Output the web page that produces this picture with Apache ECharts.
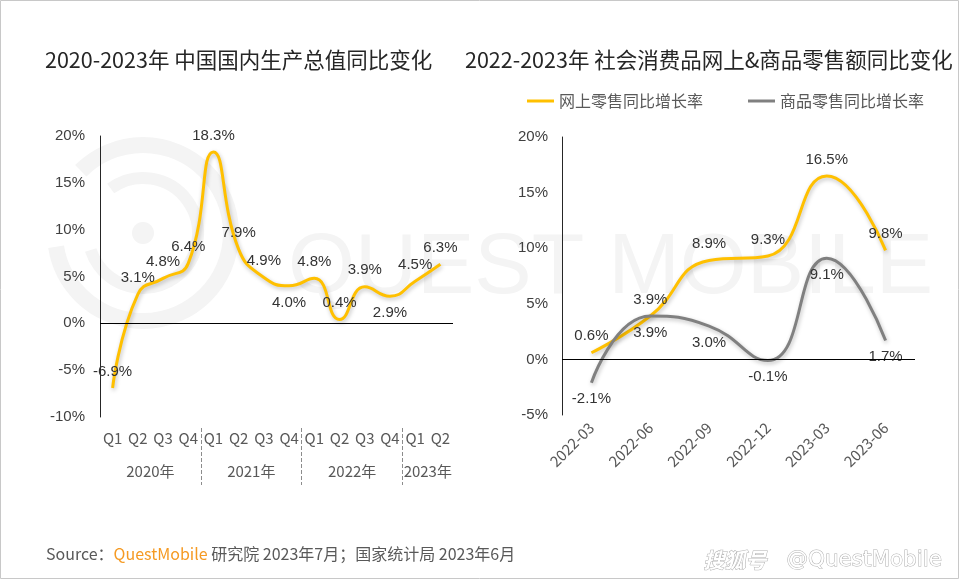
<!DOCTYPE html>
<html>
<head>
<meta charset="utf-8">
<script src="https://cdn.jsdelivr.net/npm/echarts@6/dist/echarts.min.js"></script>
<style>
html,body{margin:0;padding:0;background:#fff;}
#chart{width:960px;height:580px;}
</style>
</head>
<body>
<div id="chart"></div>
<script>
// ---- data ----
const quarterLabels = ['Q1','Q2','Q3','Q4','Q1','Q2','Q3','Q4','Q1','Q2','Q3','Q4','Q1','Q2'];
const yearLabels = ['2020年','2021年','2022年','2023年'];
const quartersPerYear = [4, 4, 4, 2];
const gdpGrowth = [-6.9, 3.1, 4.8, 6.4, 18.3, 7.9, 4.9, 4.0, 4.8, 0.4, 3.9, 2.9, 4.5, 6.3];
const monthLabels = ['2022-03','2022-06','2022-09','2022-12','2023-03','2023-06'];
const onlineRetail = [0.6, 3.9, 8.9, 9.3, 16.5, 9.8];
const goodsRetail = [-2.1, 3.9, 3.0, -0.1, 9.1, 1.7];
const seriesNames = ['网上零售同比增长率', '商品零售同比增长率'];
const titles = ['2020-2023年 中国国内生产总值同比变化', '2022-2023年 社会消费品网上&商品零售额同比变化'];

// label placement (style)
const gdpLabelPos = ['top','top','top','top','top','top','top','bottom','top','top','top','bottom','top','top'];

// derived year positions
const yearCenters = [];
const yearBounds = [];
let acc = 0;
quartersPerYear.forEach((n, i) => {
  yearCenters.push(acc + n / 2);
  acc += n;
  if (i < quartersPerYear.length - 1) yearBounds.push(acc);
});

const YELLOW = '#FFC000';
const GRAY = '#808080';
const CJK = '"Noto Sans CJK SC", "Microsoft YaHei", sans-serif';
const ARIAL = '"Liberation Sans", Arial, sans-serif';

const chart = echarts.init(document.getElementById('chart'), null, {renderer: 'canvas'});

const lineShadow = {shadowColor: 'rgba(0,0,0,0.25)', shadowBlur: 4, shadowOffsetX: 1, shadowOffsetY: 2};
const zeroLine = {
  silent: true, symbol: ['none', 'none'],
  label: {show: false},
  lineStyle: {color: '#000', width: 1, type: 'solid'},
  data: [{yAxis: 0}]
};
const labelStyle = {show: true, fontSize: 15, color: '#333', fontFamily: ARIAL, distance: 9, formatter: p => Number(p.value).toFixed(1) + '%'};

const option = {
  animation: false,
  backgroundColor: '#fff',
  title: [
    {text: titles[0], left: 40, top: 44, textStyle: {fontSize: 21.5, fontWeight: 'normal', color: '#262626', fontFamily: CJK}},
    {text: titles[1], left: 460, top: 44, textStyle: {fontSize: 21.5, fontWeight: 'normal', color: '#262626', fontFamily: CJK}}
  ],
  legend: {
    data: seriesNames,
    left: 522, top: 88,
    icon: 'rect', itemWidth: 27, itemHeight: 3, itemGap: 45,
    textStyle: {fontSize: 16, color: '#595959', fontFamily: CJK}
  },
  grid: [
    {left: 100, right: 507, top: 136, bottom: 163},
    {left: 562, right: 45, top: 137, bottom: 165}
  ],
  xAxis: [
    {
      gridIndex: 0, type: 'category', data: quarterLabels, boundaryGap: true,
      axisLine: {show: false, onZero: false}, axisTick: {show: false},
      axisLabel: {interval: 0, margin: 14, fontSize: 15, color: '#595959', fontFamily: CJK}
    },
    {
      gridIndex: 0, type: 'value', min: 0, max: 14, interval: 1, position: 'bottom', offset: 11,
      axisLine: {show: false, onZero: false}, splitLine: {show: false},
      axisTick: {show: true, customValues: yearBounds, length: 57, lineStyle: {type: 'dashed', color: '#8c8c8c', width: 1}},
      axisLabel: {
        customValues: yearCenters, margin: 36, fontSize: 15, color: '#595959', fontFamily: CJK,
        formatter: v => { const i = yearCenters.indexOf(v); return i >= 0 ? yearLabels[i] : ''; }
      }
    },
    {
      gridIndex: 1, type: 'category', data: monthLabels, boundaryGap: true,
      axisLine: {show: false, onZero: false}, axisTick: {show: false},
      axisLabel: {interval: 0, rotate: 45, margin: 10, fontSize: 15, color: '#595959', fontFamily: CJK}
    }
  ],
  yAxis: [
    {
      gridIndex: 0, type: 'value', min: -10, max: 20, interval: 5,
      axisLine: {show: true, lineStyle: {color: '#262626', width: 1}}, axisTick: {show: false}, splitLine: {show: false},
      axisLabel: {formatter: '{value}%', fontSize: 15, color: '#404040', margin: 15, fontFamily: ARIAL}
    },
    {
      gridIndex: 1, type: 'value', min: -5, max: 20, interval: 5,
      axisLine: {show: true, lineStyle: {color: '#262626', width: 1}}, axisTick: {show: false}, splitLine: {show: false},
      axisLabel: {formatter: '{value}%', fontSize: 15, color: '#404040', margin: 14, fontFamily: ARIAL}
    }
  ],
  graphic: [
    {type: 'rect', silent: true, z: -10, shape: {x: 0.5, y: 0.5, width: 958, height: 578}, style: {fill: 'none', stroke: '#c8c8c8', lineWidth: 1}},
    // faint watermark logo
    {type: 'arc', silent: true, z: -5, shape: {cx: 143, cy: 233, r: 88, startAngle: Math.PI * 1.25, endAngle: Math.PI * 0.95 + Math.PI * 2, clockwise: true}, style: {stroke: '#f4f4f4', lineWidth: 16, fill: 'none'}},
    {type: 'arc', silent: true, z: -5, shape: {cx: 143, cy: 233, r: 55, startAngle: Math.PI * 1.3, endAngle: Math.PI * 0.9 + Math.PI * 2, clockwise: true}, style: {stroke: '#f4f4f4', lineWidth: 12, fill: 'none'}},
    {type: 'circle', silent: true, z: -5, shape: {cx: 143, cy: 233, r: 11}, style: {fill: '#f4f4f4'}},
    {type: 'text', silent: true, z: -5, left: 288, top: 226, style: {text: 'QUEST MOBILE', fontSize: 86, fontFamily: ARIAL, fill: '#f4f4f4'}},
    // footer
    {
      type: 'text', left: 46, top: 546,
      style: {
        text: '{g|Source：}{o|QuestMobile}{g| 研究院 2023年7月；国家统计局 2023年6月}',
        rich: {
          g: {fontSize: 16, fill: '#595959', fontFamily: CJK},
          o: {fontSize: 16, fill: '#F59A23', fontFamily: CJK}
        }
      }
    },
    {type: 'text', left: 703, top: 549, style: {text: '搜狐号', fontSize: 21, fontWeight: 'bold', fontStyle: 'italic', fontFamily: CJK, fill: '#ffffff', stroke: '#b0b0b0', lineWidth: 1}},
    {type: 'text', left: 786, top: 549, style: {text: '@QuestMobile', fontSize: 21.5, fontFamily: '"DejaVu Sans", sans-serif', fill: '#ffffff', stroke: '#b0b0b0', lineWidth: 1}}
  ],
  series: [
    {
      name: 'GDP', type: 'line', xAxisIndex: 0, yAxisIndex: 0, smooth: 0.5,
      symbol: 'circle', symbolSize: 0.01, showSymbol: true,
      lineStyle: Object.assign({color: YELLOW, width: 3}, lineShadow),
      itemStyle: {color: YELLOW},
      label: labelStyle,
      data: gdpGrowth.map((v, i) => ({value: v, label: {position: gdpLabelPos[i]}})),
      markLine: zeroLine
    },
    {
      name: seriesNames[0], type: 'line', xAxisIndex: 2, yAxisIndex: 1, smooth: 0.5,
      symbol: 'circle', symbolSize: 0.01, showSymbol: true,
      lineStyle: Object.assign({color: YELLOW, width: 3}, lineShadow),
      itemStyle: {color: YELLOW},
      label: Object.assign({}, labelStyle, {position: 'top'}),
      data: onlineRetail,
      markLine: zeroLine
    },
    {
      name: seriesNames[1], type: 'line', xAxisIndex: 2, yAxisIndex: 1, smooth: 0.5,
      symbol: 'circle', symbolSize: 0.01, showSymbol: true,
      lineStyle: Object.assign({color: GRAY, width: 3}, lineShadow),
      itemStyle: {color: GRAY},
      label: Object.assign({}, labelStyle, {position: 'bottom'}),
      data: goodsRetail
    }
  ]
};
chart.setOption(option);
</script>
</body>
</html>
